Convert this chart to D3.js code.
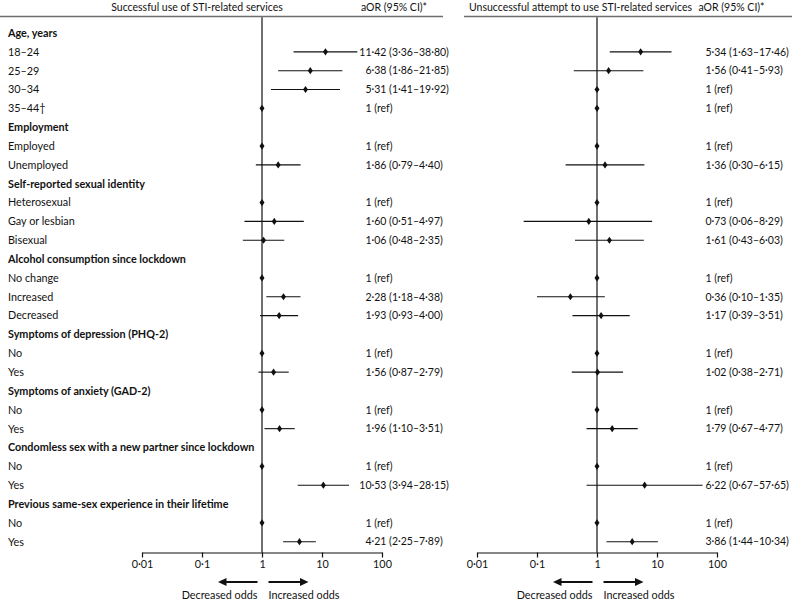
<!DOCTYPE html>
<html>
<head>
<meta charset="utf-8">
<script src="https://cdn.jsdelivr.net/npm/d3@7"></script>
<style>
  html, body { margin: 0; padding: 0; background: #fff; }
  svg { display: block; }
  text { font-family: Lato, "Open Sans", sans-serif; fill: #111; }
</style>
</head>
<body>
<svg id="chart" width="792" height="601"></svg>
<script>
// ---------------- DATA ----------------
const rowLabels = [
  "Age, years", "18–24", "25–29", "30–34", "35–44†",
  "Employment", "Employed", "Unemployed",
  "Self-reported sexual identity", "Heterosexual", "Gay or lesbian", "Bisexual",
  "Alcohol consumption since lockdown", "No change", "Increased", "Decreased",
  "Symptoms of depression (PHQ-2)", "No", "Yes",
  "Symptoms of anxiety (GAD-2)", "No", "Yes",
  "Condomless sex with a new partner since lockdown", "No", "Yes",
  "Previous same-sex experience in their lifetime", "No", "Yes"
];
const isGroupHeader = [
  true, false, false, false, false,
  true, false, false,
  true, false, false, false,
  true, false, false, false,
  true, false, false,
  true, false, false,
  true, false, false,
  true, false, false
];
// Successful use of STI-related services (aOR, lower CI, upper CI); null CI = reference
const successOR = [null, 11.42, 6.38, 5.31, 1, null, 1, 1.86, null, 1, 1.60, 1.06, null, 1, 2.28, 1.93, null, 1, 1.56, null, 1, 1.96, null, 1, 10.53, null, 1, 4.21];
const successLo = [null, 3.36, 1.86, 1.41, null, null, null, 0.79, null, null, 0.51, 0.48, null, null, 1.18, 0.93, null, null, 0.87, null, null, 1.10, null, null, 3.94, null, null, 2.25];
const successHi = [null, 38.80, 21.85, 19.92, null, null, null, 4.40, null, null, 4.97, 2.35, null, null, 4.38, 4.00, null, null, 2.79, null, null, 3.51, null, null, 28.15, null, null, 7.89];
// Unsuccessful attempt to use STI-related services
const unsuccessOR = [null, 5.34, 1.56, 1, 1, null, 1, 1.36, null, 1, 0.73, 1.61, null, 1, 0.36, 1.17, null, 1, 1.02, null, 1, 1.79, null, 1, 6.22, null, 1, 3.86];
const unsuccessLo = [null, 1.63, 0.41, null, null, null, null, 0.30, null, null, 0.06, 0.43, null, null, 0.10, 0.39, null, null, 0.38, null, null, 0.67, null, null, 0.67, null, null, 1.44];
const unsuccessHi = [null, 17.46, 5.93, null, null, null, null, 6.15, null, null, 8.29, 6.03, null, null, 1.35, 3.51, null, null, 2.71, null, null, 4.77, null, null, 57.65, null, null, 10.34];

const tickValues = [0.01, 0.1, 1, 10, 100];
const tickLabels = ["0·01", "0·1", "1", "10", "100"];
const panelTitles = ["Successful use of STI-related services", "Unsuccessful attempt to use STI-related services"];
const columnTitle = "aOR (95% CI)*";
const arrowLabels = ["Decreased odds", "Increased odds"];

// ---------------- LAYOUT ----------------
const svg = d3.select("#chart");
const FS = 10.8;     // labels
const FSH = 10.5;    // header titles
const FSV = 10.5;    // value column
const ink = "#111";
const axisY = 552.5;
const topLineY = 16.5;
const headerBaseline = 10.5;

const y = d3.scalePoint().domain(d3.range(rowLabels.length)).range([33, 541.7]);

const fmt = v => v.toFixed(2).replace(".", "·");
const label = (or, lo, hi) => lo == null ? "1 (ref)" : `${fmt(or)} (${fmt(lo)}–${fmt(hi)})`;

const panels = [
  { range: [142, 382], or: successOR, lo: successLo, hi: successHi, valueX: 371.5,
    titleX: 197, aorX: 361, line: [0, 443] },
  { range: [477, 717], or: unsuccessOR, lo: unsuccessLo, hi: unsuccessHi, valueX: 711.5,
    titleX: 580.5, aorX: 698.5, line: [464, 792] }
];

// Row labels
svg.append("g").selectAll("text")
  .data(rowLabels)
  .join("text")
  .attr("x", 8)
  .attr("y", (d, i) => y(i))
  .attr("dy", "0.36em")
  .attr("font-size", FS)
  .attr("font-weight", (d, i) => isGroupHeader[i] ? 700 : 400)
  .text(d => d);

panels.forEach((p, pi) => {
  const x = d3.scaleLog().domain([0.01, 100]).range(p.range);
  const g = svg.append("g");

  // header
  g.append("text").attr("x", p.titleX).attr("y", headerBaseline).attr("text-anchor", "middle")
    .attr("font-size", FSH).text(panelTitles[pi]);
  g.append("text").attr("x", p.aorX).attr("y", headerBaseline)
    .attr("font-size", FSH).text(columnTitle);
  g.append("line").attr("x1", p.line[0]).attr("x2", p.line[1])
    .attr("y1", topLineY).attr("y2", topLineY)
    .attr("stroke", "#6e6e6e").attr("stroke-width", 1.5);

  // reference line at OR = 1
  g.append("line").attr("x1", x(1)).attr("x2", x(1))
    .attr("y1", topLineY + 0.8).attr("y2", axisY)
    .attr("stroke", ink).attr("stroke-width", 1.2);

  const idx = d3.range(rowLabels.length).filter(i => p.or[i] != null);

  // CI lines
  g.append("g").selectAll("line")
    .data(idx.filter(i => p.lo[i] != null))
    .join("line")
    .attr("x1", i => x(p.lo[i])).attr("x2", i => x(p.hi[i]))
    .attr("y1", i => y(i)).attr("y2", i => y(i))
    .attr("stroke", ink).attr("stroke-width", 1.1);

  // diamonds
  const hw = 2.5, hh = 3.6;
  g.append("g").selectAll("path")
    .data(idx)
    .join("path")
    .attr("d", i => {
      const cx = x(p.or[i]), cy = y(i);
      return `M${cx},${cy - hh}L${cx + hw},${cy}L${cx},${cy + hh}L${cx - hw},${cy}Z`;
    })
    .attr("fill", ink);

  // value text, aligned on the decimal point
  g.append("g").selectAll("text")
    .data(idx)
    .join("text")
    .attr("y", i => y(i))
    .attr("dy", "0.36em")
    .attr("font-size", FSV)
    .text(i => label(p.or[i], p.lo[i], p.hi[i]))
    .each(function (i) {
      const s = this.textContent;
      const m = s.match(/^\d+/);
      const w = this.getSubStringLength(0, m[0].length);
      d3.select(this).attr("x", p.valueX - w);
    });

  // axis
  const axis = d3.axisBottom(x)
    .tickValues(tickValues)
    .tickFormat((d, k) => tickLabels[k])
    .tickSize(5)
    .tickSizeOuter(0);
  const ag = g.append("g").attr("transform", `translate(0,${axisY})`).call(axis);
  ag.select(".domain").attr("stroke", ink).attr("stroke-width", 1.2);
  ag.selectAll(".tick line").attr("stroke", ink).attr("stroke-width", 1.2);
  ag.selectAll(".tick text").attr("font-size", FS)
    .attr("font-family", "Lato, 'Open Sans', sans-serif").attr("fill", ink);

  // direction arrows
  const x1 = x(1), ay = 582;
  const arr = g.append("g");
  arr.append("line").attr("x1", x1 - 4.5).attr("x2", x1 - 36).attr("y1", ay).attr("y2", ay)
    .attr("stroke", ink).attr("stroke-width", 2);
  arr.append("path").attr("d", `M${x1 - 44},${ay}L${x1 - 35.5},${ay - 4}L${x1 - 35.5},${ay + 4}Z`).attr("fill", ink);
  arr.append("line").attr("x1", x1 + 6.5).attr("x2", x1 + 38).attr("y1", ay).attr("y2", ay)
    .attr("stroke", ink).attr("stroke-width", 2);
  arr.append("path").attr("d", `M${x1 + 46.5},${ay}L${x1 + 38},${ay - 4}L${x1 + 38},${ay + 4}Z`).attr("fill", ink);

  g.append("text").attr("x", x1 - 4.5).attr("y", 598.5).attr("text-anchor", "end")
    .attr("font-size", FS).text(arrowLabels[0]);
  g.append("text").attr("x", x1 + 6.5).attr("y", 598.5).attr("text-anchor", "start")
    .attr("font-size", FS).text(arrowLabels[1]);
});
</script>
</body>
</html>
